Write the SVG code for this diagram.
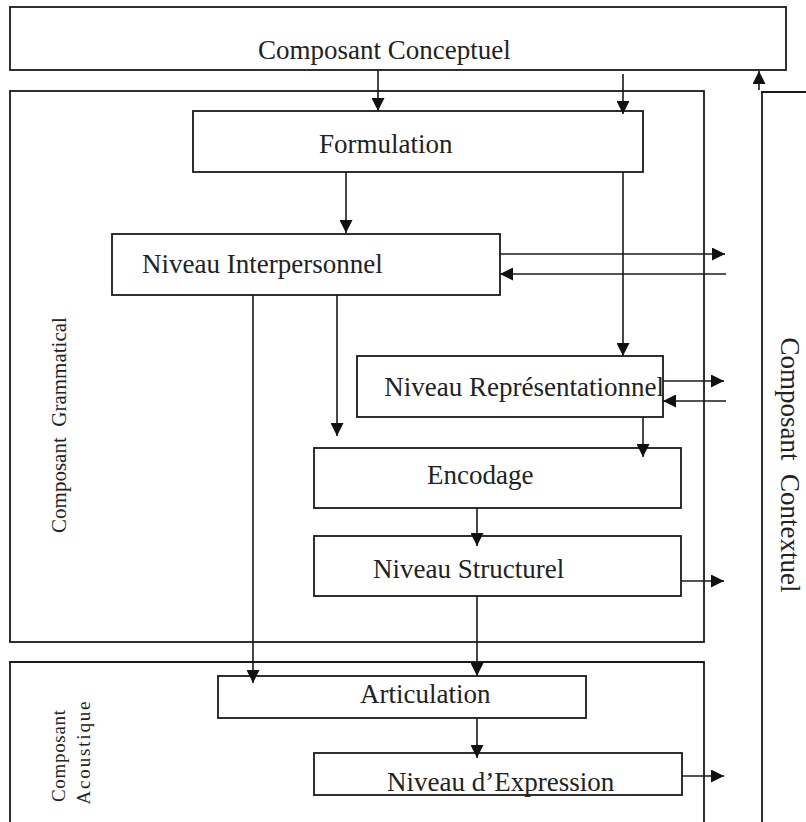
<svg xmlns="http://www.w3.org/2000/svg" width="806" height="822" viewBox="0 0 806 822">
<style>
.box{fill:none;stroke:#1a1a1a;stroke-width:1.8}
.t{font-family:"Liberation Serif","Times New Roman",serif;font-size:27px;fill:#222}
.s{font-family:"Liberation Serif","Times New Roman",serif;fill:#222}
.c{fill:none;stroke:#1a1a1a;stroke-width:1.6}
</style>
<defs>
<marker id="ah" viewBox="0 0 13 13" refX="13" refY="6.5" markerWidth="13" markerHeight="13" markerUnits="userSpaceOnUse" orient="auto">
<path d="M0,0 L13,6.5 L0,13 z" fill="#111"/>
</marker>
</defs>
<rect width="806" height="822" fill="#fff"/>

<g id="conceptuel">
<rect class="box" x="10" y="7" width="776" height="63"/>
<text class="t" x="258" y="59">Composant Conceptuel</text>
</g>
<g id="grammatical">
<rect class="box" x="10" y="91" width="694" height="551"/>
<text class="s" font-size="21" transform="translate(66,425) rotate(-90)" text-anchor="middle" xml:space="preserve">Composant  Grammatical</text>
</g>
<g id="contextuel">
<path class="box" d="M762,826 V92 H810"/>
<text class="t" transform="translate(781,465) rotate(90)" text-anchor="middle" xml:space="preserve">Composant  Contextuel</text>
</g>
<g id="acoustique">
<path class="box" d="M10,826 V662 H704 V826"/>
<text class="s" font-size="19" transform="translate(65,756) rotate(-90)" text-anchor="middle" textLength="92" lengthAdjust="spacing">Composant</text>
<text class="s" font-size="19" transform="translate(90,753) rotate(-90)" text-anchor="middle" textLength="103" lengthAdjust="spacing">Acoustique</text>
</g>
<g id="formulation">
<rect class="box" x="193" y="111" width="450" height="61"/>
<text class="t" x="319" y="153">Formulation</text>
</g>
<g id="interpersonnel">
<rect class="box" x="112" y="234" width="388" height="61"/>
<text class="t" x="142" y="273">Niveau Interpersonnel</text>
</g>
<g id="representationnel">
<rect class="box" x="357" y="356" width="306" height="61"/>
<text class="t" x="664" y="396" text-anchor="end">Niveau Représentationnel</text>
</g>
<g id="encodage">
<rect class="box" x="314" y="448" width="367" height="60"/>
<text class="t" x="427" y="484">Encodage</text>
</g>
<g id="structurel">
<rect class="box" x="314" y="536" width="367" height="60"/>
<text class="t" x="373" y="578">Niveau Structurel</text>
</g>
<g id="articulation">
<rect class="box" x="218" y="676" width="368" height="42"/>
<text class="t" x="360" y="703">Articulation</text>
</g>
<g id="expression">
<rect class="box" x="314" y="753" width="368" height="42"/>
<text class="t" x="387" y="791">Niveau d’Expression</text>
</g>

<g id="connectors">
<path class="c" marker-end="url(#ah)" d="M378,70 V111"/>
<path class="c" marker-end="url(#ah)" d="M623,74 V114"/>
<path class="c" marker-end="url(#ah)" d="M759,90 V71"/>
<path class="c" marker-end="url(#ah)" d="M346,172 V233"/>
<path class="c" marker-end="url(#ah)" d="M623,172 V356"/>
<path class="c" marker-end="url(#ah)" d="M500,254 H725"/>
<path class="c" marker-end="url(#ah)" d="M726,274 H500"/>
<path class="c" marker-end="url(#ah)" d="M663,381 H724"/>
<path class="c" marker-end="url(#ah)" d="M726,401 H663"/>
<path class="c" marker-end="url(#ah)" d="M337,295 V436"/>
<path class="c" marker-end="url(#ah)" d="M643,417 V457"/>
<path class="c" marker-end="url(#ah)" d="M477,508 V546"/>
<path class="c" marker-end="url(#ah)" d="M681,581 H724"/>
<path class="c" marker-end="url(#ah)" d="M477,596 V676"/>
<path class="c" marker-end="url(#ah)" d="M253,295 V683"/>
<path class="c" marker-end="url(#ah)" d="M477,718 V758"/>
<path class="c" marker-end="url(#ah)" d="M682,776 H724"/>
</g>
</svg>
